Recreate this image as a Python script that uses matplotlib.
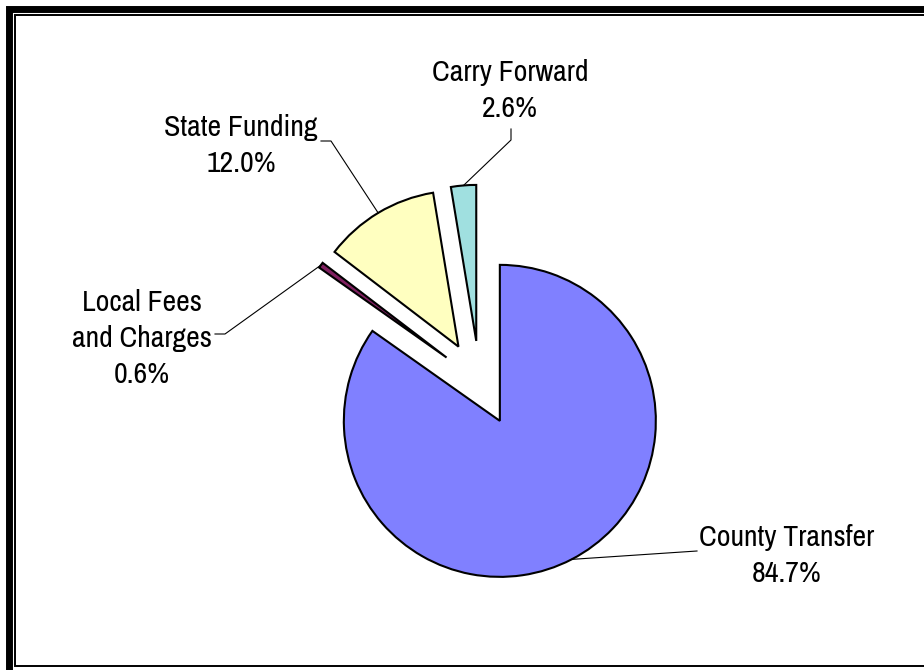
import matplotlib

matplotlib.use("Agg")
import matplotlib.pyplot as plt
import numpy as np

# revenue sources, clockwise from 12 o'clock
sources = ["County Transfer", "Local Fees\nand Charges", "State Funding", "Carry Forward"]
shares = [84.7, 0.6, 12.0, 2.6]
colors = ["#8080FF", "#802060", "#FFFFC0", "#A0E0E0"]

W, H = 924, 670
explode = [44, 41, 41, 41]
radius = 156
center = (479.6, 288.2)

# label anchor (last-line baseline), leader stub start, stub end
label_pos = [(787, 88), (142, 287), (241, 498), (510, 553)]
stub = [((697, 119), (697, 119)),
        ((215, 336), (225, 336)),
        ((321, 529), (331, 529)),
        ((511, 541), (511, 530))]

plt.rcParams["font.family"] = ["Liberation Sans Narrow", "Archivo Narrow", "Liberation Sans"]

fig = plt.figure(figsize=(W / 100, H / 100), dpi=100)
ax = fig.add_axes([0, 0, 1, 1])

wedges, _ = ax.pie(shares, explode=explode, colors=colors, startangle=90,
                   counterclock=False, radius=radius, center=center,
                   wedgeprops=dict(edgecolor="black", linewidth=1.5))

for w, name, val, (tx, ty), (s0, s1) in zip(wedges, sources, shares, label_pos, stub):
    mid = np.deg2rad((w.theta1 + w.theta2) / 2)
    cx, cy = w.center
    ex, ey = cx + w.r * np.cos(mid), cy + w.r * np.sin(mid)
    ax.plot([s0[0], s1[0], ex], [s0[1], s1[1], ey], color="black", lw=0.8)
    ax.text(tx, ty, f"{name}\n{val:.1f}%", ha="center", va="baseline",
            fontsize=21.5, linespacing=1.4, multialignment="center")

# double border
ax.plot([8.5, 8.5, W + 10], [-10, H - 8.5, H - 8.5], color="black", lw=5.0,
        solid_capstyle="butt", solid_joinstyle="miter")
ax.plot([W + 10, 15, 15, W + 10], [4, 4, H - 15, H - 15], color="black", lw=1.4,
        solid_joinstyle="miter")

ax.set_xlim(0, W)
ax.set_ylim(0, H)
ax.set_aspect("auto")
ax.axis("off")

fig.savefig("out.png", dpi=100)
